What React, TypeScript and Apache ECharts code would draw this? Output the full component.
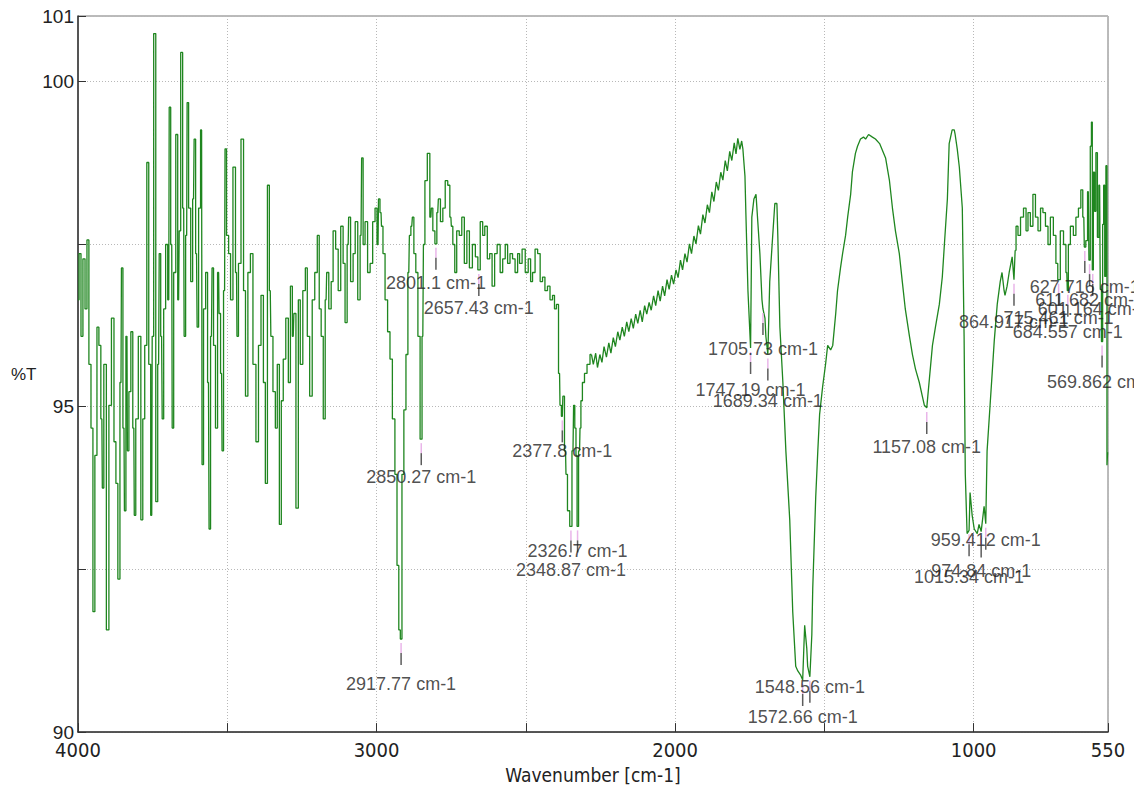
import React, { useEffect, useRef } from "react";
import * as echarts from "echarts";

// Axis label values shown in the reference
const X_LABEL_VALUES = [4000, 3000, 2000, 1000, 550];
const Y_LABEL_VALUES = [90, 95, 100, 101];

// Spectrum, [wavenumber cm-1, %T]; split where the trace changes from noisy to smooth
const spectrumHigh: [number, number][] = [
  [4000,96.64],[3993,97.35],[3987,96.08],[3980,97.27],[3973,96.5],[3967,97.56],[3960,95.65],[3953,94.67],[3947,91.85],[3940,94.25],[3933,96.22],[3927,95.94],[3920,94.81],[3917,93.75],[3910,95.65],[3900,91.57],[3893,95.02],[3883,96.36],[3876,94.46],[3870,93.82],[3863,92.35],[3856,95.37],[3853,97.13],[3846,94.67],[3843,93.4],[3836,96.08],[3833,94.32],[3826,95.23],[3820,96.15],[3813,94.67],[3810,93.33],[3803,94.81],[3793,96.08],[3786,93.26],[3780,94.81],[3773,95.94],[3766,98.75],[3760,95.65],[3753,93.33],[3750,96.08],[3743,100.73],[3736,93.54],[3730,95.65],[3726,97.35],[3720,96.08],[3716,94.81],[3710,96.5],[3703,97.49],[3696,96.64],[3693,99.6],[3686,97.49],[3683,94.67],[3676,97.06],[3669,99.18],[3663,96.64],[3659,97.7],[3653,100.44],[3646,98.05],[3643,96.08],[3636,97.63],[3633,99.67],[3626,98.05],[3619,96.92],[3613,98.19],[3609,99.11],[3603,97.35],[3599,96.22],[3593,98.05],[3586,99.25],[3583,94.11],[3576,96.5],[3569,97.06],[3563,95.37],[3559,93.12],[3553,96.08],[3549,97.13],[3543,95.94],[3536,94.67],[3529,97.06],[3526,96.43],[3519,95.51],[3516,94.32],[3509,96.78],[3506,98.96],[3499,97.63],[3492,97.35],[3486,96.64],[3476,98.68],[3469,97.06],[3466,96.08],[3459,97.2],[3449,99.11],[3442,96.78],[3436,95.16],
  [3426,97.06],[3419,97.35],[3409,95.65],[3399,94.46],[3392,95.94],[3382,96.71],[3376,95.37],[3369,93.82],[3362,98.4],[3356,96.78],[3352,96.08],[3342,95.23],[3336,94.67],[3329,95.65],[3322,93.19],[3316,95.09],[3309,95.73],[3299,96.36],[3292,95.37],[3285,96.85],[3279,96.08],[3275,96.43],[3265,93.44],[3259,96.64],[3252,95.65],[3242,96.78],[3235,97.13],[3229,96.08],[3219,95.16],[3212,96.64],[3202,97.06],[3195,97.63],[3189,96.5],[3182,96.08],[3175,94.81],[3169,96.64],[3165,97.06],[3155,96.5],[3149,96.92],[3142,97.7],[3132,97.42],[3125,96.78],[3115,97.77],[3109,97.2],[3102,96.29],[3095,97.49],[3092,97.91],[3082,96.92],[3075,97.35],[3068,97.84],[3058,96.64],[3052,97.63],[3048,98.82],[3042,97.49],[3035,97.84],[3025,97.06],[3018,97.2],[3008,97.84],[3002,98.05],[2995,97.49],[2992,98.19],[2985,97.98],[2982,97.77],[2975,97.35],[2968,96.64],[2958,96.15],[2952,95.73],[2942,94.81],[2935,93.96],[2928,92.56],[2923,91.57],[2917.77,91.43],[2912,93.96],[2905,94.95],[2898,95.8],[2892,97.06],[2888,97.63],[2882,97.77],[2878,97.91],[2872,97.35],[2865,97.06],[2858,96.08],[2850.27,94.5],[2845,96.08],[2841,97.49],[2835,98.47],[2825,98.89],[2818,97.91],[2815,98.05],[2808,97.7],[2801.1,97.5],[2795,97.98],[2791,98.19],[2781,97.84],[2775,98.05],[2765,98.47],[2758,98.4],[2751,97.91],[2748,97.77],[2741,97.49],[2735,97.06],[2728,97.7],[2718,97.63],[2711,97.91],[2701,97.2],[2694,97.7],[2684,97.13],[2674,97.49],[2664,97.3],[2657.43,97.1],[2648,97.84],[2641,97.63],[2634,97.77],[2624,97.27],[2618,97.35],[2608,96.85],[2601,97.35],[2591,97.49],[2581,97.06],[2574,97.27],[2564,97.49],[2558,97.2],[2548,97.35],[2541,97.27],[2531,97.06],[2524,97.35],[2518,97.2],[2507,97.42],[2497,97.06],[2487,97.27],[2481,96.92],[2474,97.06],[2464,97.42],[2457,97.35],[2447,96.92],[2441,96.99],[2431,96.78],[2424,96.85],[2414,96.64],[2407,96.71],[2401,96.5],[2394,96.57],[2387,95.51],[2384,95.02],[2377.8,94.85],[2374,95.16],[2367,94.32],[2364,93.96],[2357,93.4],[2348.87,93.16],[2342,94.32],[2338,95.02],[2334,94.67],[2330,94.25],[2326.7,93.16],[2320,94.32],[2317,94.67],[2314,95.09],[2307,95.37],[2300,95.51],[2290,95.65],[2280,95.8],
];

const spectrumMid: [number, number][] = [
  [2280,95.8],[2274,95.65],[2266,95.82],[2260,95.6],[2252,95.8],[2245,95.68],[2238,95.92],[2230,95.76],[2222,95.98],[2215,95.82],[2207,96.06],[2200,95.92],[2192,96.15],[2185,96.02],[2177,96.22],[2170,96.08],[2162,96.3],[2155,96.15],[2147,96.35],[2140,96.2],[2132,96.42],[2125,96.28],[2117,96.48],[2110,96.3],[2102,96.55],[2095,96.42],[2087,96.6],[2080,96.48],[2072,96.7],[2065,96.55],[2057,96.78],[2050,96.62],[2042,96.85],[2035,96.7],[2027,96.95],[2020,96.8],[2012,97.02],[2005,96.88],[1997,97.1],[1990,96.98],[1982,97.25],[1975,97.1],[1967,97.35],[1960,97.22],[1952,97.5],[1945,97.35],[1937,97.62],[1930,97.5],[1922,97.78],[1915,97.65],[1907,97.95],[1900,97.82],[1892,98.1],[1885,97.98],[1877,98.3],[1870,98.15],[1862,98.45],[1855,98.32],[1847,98.6],[1840,98.48],[1832,98.78],[1825,98.62],[1817,98.92],[1810,98.78],[1802,99.05],[1796,98.88],[1790,99.12],[1783,98.95],[1777,99.08],[1773,98.96],
  [1766,98.54],[1763,97.98],[1756,96.78],[1747.19,95.9],[1743,97.91],[1736,98.19],[1729,98.26],[1723,97.84],[1716,97.35],[1709,96.64],[1705.73,96.5],[1699,96.36],[1696,96.08],[1689.34,95.8],[1683,96.92],[1673,97.63],[1666,98.12],[1659,98.12],[1656,97.63],[1649,96.22],[1639,95.37],[1629,94.32],[1616,93.26],[1606,91.85],[1596,91.01],[1589,90.94],[1579,90.87],[1572.66,90.8],[1566,91.64],[1559,91.29],[1556,91.01],[1548.56,90.85],[1542,91.5],[1539,92.2],[1529,93.61],[1522,94.32],[1516,94.88],[1506,95.3],[1496,95.65],[1489,95.94],[1479,95.87],[1472,95.94],[1462,96.43],[1456,96.78],[1446,97.13],[1439,97.35],[1429,97.63],[1422,97.91],[1412,98.26],[1406,98.61],[1396,98.89],[1389,99.0],[1379,99.11],[1369,99.14],[1362,99.11],[1352,99.18],[1339,99.14],[1329,99.11],[1315,99.04],[1305,98.93],[1295,98.82],[1282,98.47],[1272,98.05],[1262,97.7],[1249,97.35],[1239,96.92],[1229,96.5],[1215,96.08],[1205,95.8],[1195,95.58],[1182,95.37],[1172,95.16],[1165,95.02],[1157.08,94.98],[1148,95.44],[1138,95.94],[1128,96.22],[1115,96.57],[1105,96.99],[1098,97.49],[1088,98.19],[1082,99.04],[1072,99.25],[1065,99.25],[1062,99.18],[1055,98.96],[1048,98.68],[1038,98.05],[1032,96.08],[1028,93.96],[1022,93.05],[1015.34,93.1],[1012,93.68],[1005,93.33],[998,93.12],[988,93.05],[982,93.19],[974.84,93.08],[965,93.47],[959.412,93.2],[955,94.32],[945,95.02],[938,95.51],[931,96.01],[921,96.57],[911,96.92],[905,97.06],[898,96.78],[895,96.71],[888,96.85],[881,97.06],[871,97.3],[864.917,96.95],[861,97.4],
];

const spectrumLow: [number, number][] = [
  [861,97.4],[855,97.77],[848,97.63],[838,97.91],[828,98.05],[821,97.7],[815,97.98],[805,97.77],[798,98.26],[788,97.91],[781,97.7],[771,98.05],[765,97.98],[754,97.77],[748,97.49],[738,97.91],[728,97.63],[721,97.2],[715.461,96.95],[704,97.7],[694,97.49],[688,97.06],[684.557,96.78],[681,97.49],[671,97.77],[661,97.63],[654,97.91],[644,98.05],[638,98.33],[631,97.91],[627.716,97.45],[621,97.55],[616,98.3],[611.682,97.25],[607,99.0],[604,99.37],[601.164,97.1],[597,98.6],[593,98.0],[588,98.9],[583,97.6],[578,98.4],[574,96.8],[569.862,96.0],[566,97.8],[563,98.4],[559,97.0],[555,98.7],[552,94.1],[550.5,94.3],
];

// Picked peaks: [wavenumber, %T at the peak]
const peaks: [number, number][] = [
  [2917.77, 91.43], [2850.27, 94.5], [2801.1, 97.5], [2657.43, 97.1],
  [2377.8, 94.85], [2348.87, 93.16], [2326.7, 93.16],
  [1747.19, 95.9], [1705.73, 96.5], [1689.34, 95.8],
  [1572.66, 90.8], [1548.56, 90.85], [1157.08, 94.98],
  [1015.34, 93.1], [974.84, 93.08], [959.412, 93.2],
  [864.917, 96.95], [715.461, 96.95], [684.557, 96.78],
  [627.716, 97.45], [611.682, 97.25], [601.164, 97.1], [569.862, 96.0],
];

// Vertical drop (px) of each peak label below its peak (label staggering, style only)
const LABEL_DROP: Record<string, number> = {
  "2917.77": 45, "2850.27": 38, "2801.1": 39, "2657.43": 38,
  "2377.8": 35, "2348.87": 44, "2326.7": 25,
  "1747.19": 42, "1705.73": 40, "1689.34": 46,
  "1572.66": 37, "1548.56": 10, "1157.08": 39,
  "1015.34": 47, "974.84": 39, "959.412": 16,
  "864.917": 42, "715.461": 38, "684.557": 41,
  "627.716": 40, "611.682": 40, "601.164": 39, "569.862": 40,
};

const NARROW = "'Liberation Sans Narrow', 'DejaVu Sans Condensed', 'Arial Narrow', 'Liberation Sans', sans-serif";
const SANS = "'Liberation Sans', Arial, Helvetica, sans-serif";
const LINE_COLOR = "#1f861f";

export default function App() {
  const ref = useRef<HTMLDivElement>(null);

  useEffect(() => {
    if (!ref.current) return;
    const chart = echarts.init(ref.current, undefined, { renderer: "svg" });

    const labelData = peaks.map(([w, t]) => ({
      value: [w, t],
      name: `${w} cm-1`,
      label: { offset: [0, LABEL_DROP[String(w)] ?? 40] },
    }));

    const traceSeries = (data: [number, number][], step: false | "middle") => ({
      type: "line",
      data,
      step,
      showSymbol: false,
      symbol: "none",
      lineStyle: { color: LINE_COLOR, width: 1.3 },
      z: 3,
    });

    chart.setOption({
      animation: false,
      backgroundColor: "#ffffff",
      grid: {
        left: 78,
        right: 26,
        top: 16,
        bottom: 56,
        show: true,
        borderColor: "#777777",
        borderWidth: 1,
        backgroundColor: "transparent",
      },
      xAxis: {
        type: "value",
        inverse: true,
        min: 550,
        max: 4000,
        name: "Wavenumber [cm-1]",
        nameLocation: "middle",
        nameGap: 32,
        nameTextStyle: { fontFamily: NARROW, fontSize: 19, color: "#222" },
        axisLine: { show: true, lineStyle: { color: "#333", width: 1.5 } },
        axisTick: { show: true, inside: true, length: 9, lineStyle: { color: "#333", width: 1 } },
        axisLabel: {
          showMinLabel: true,
          showMaxLabel: true,
          margin: 8,
          fontFamily: NARROW,
          fontSize: 20,
          color: "#222",
          formatter: (v: number) => (X_LABEL_VALUES.includes(v) ? String(v) : ""),
        },
        splitLine: { show: true, lineStyle: { color: "#b8b8b8", type: [1, 2], width: 1 } },
      },
      yAxis: {
        type: "value",
        min: 90,
        max: 101,
        interval: 2.5,
        name: "%T",
        nameLocation: "middle",
        nameRotate: 0,
        nameGap: 41,
        nameTextStyle: { fontFamily: SANS, fontSize: 17, color: "#222" },
        axisLine: { show: true, lineStyle: { color: "#333", width: 1.5 } },
        axisTick: { show: true, inside: true, length: 8, lineStyle: { color: "#333", width: 1 } },
        axisLabel: {
          showMinLabel: true,
          showMaxLabel: true,
          margin: 4,
          fontFamily: SANS,
          fontSize: 19,
          color: "#222",
          formatter: (v: number) => (Y_LABEL_VALUES.includes(v) ? String(v) : ""),
        },
        splitLine: { show: true, lineStyle: { color: "#b8b8b8", type: [1, 2], width: 1 } },
      },
      series: [
        traceSeries(spectrumHigh, "middle"),
        traceSeries(spectrumMid, false),
        traceSeries(spectrumLow, "middle"),
        {
          type: "scatter",
          data: peaks,
          symbol: "rect",
          symbolSize: [1.5, 10],
          symbolOffset: [0, 9],
          itemStyle: { color: "#e3a3e3" },
          silent: true,
          z: 4,
        },
        {
          type: "scatter",
          data: peaks,
          symbol: "rect",
          symbolSize: [1.5, 12],
          symbolOffset: [0, 20],
          itemStyle: { color: "#333333" },
          silent: true,
          z: 4,
        },
        {
          type: "scatter",
          data: labelData,
          symbol: "circle",
          symbolSize: 1,
          itemStyle: { color: "rgba(0,0,0,0)" },
          silent: true,
          z: 5,
          label: {
            show: true,
            position: "inside",
            formatter: (p: any) => p.name,
            fontFamily: SANS,
            fontSize: 18,
            color: "#222",
          },
        },
      ],
    });

    return () => chart.dispose();
  }, []);

  return (
    <div
      ref={ref}
      style={{ position: "absolute", left: 0, top: 0, width: 1134, height: 789, background: "#fff" }}
    />
  );
}
